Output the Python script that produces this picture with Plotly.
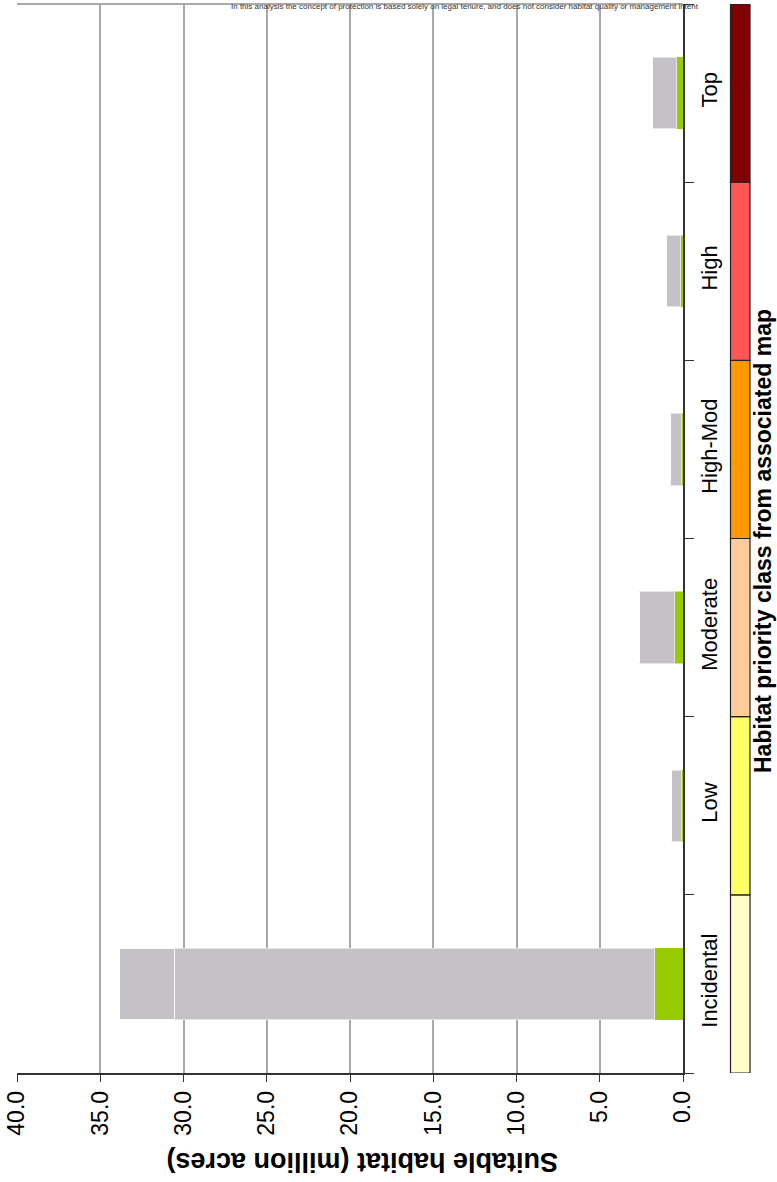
import plotly.graph_objects as go

categories = ["Incidental", "Low", "Moderate", "High-Mod", "High", "Top"]
protected = [1.74, 0.10, 0.54, 0.12, 0.18, 0.42]
unprotected = [28.83, 0.62, 2.06, 0.66, 0.84, 1.44]
unprotected_extra = [3.30, 0.0, 0.0, 0.0, 0.0, 0.0]
class_colors = ["#FFFFCC", "#FFFF66", "#FFCC99", "#FF9900", "#FF5555", "#800000"]
value_ticks = [0, 5, 10, 15, 20, 25, 30, 35, 40]

W, H = 777, 1182
L, R, T, B = 17, 94, 4, 109
pw = W - L - R
ph = H - T - B

def px_x(p):
    return (p - L) / pw

def px_y(p):
    return (H - B - p) / ph

FONT = "Liberation Sans, Arial, sans-serif"

fig = go.Figure()
fig.add_trace(go.Bar(y=categories, x=protected, orientation="h", name="Protected",
                     marker=dict(color="#99CC00", line=dict(color="#99CC00", width=0.5))))
fig.add_trace(go.Bar(y=categories, x=unprotected, orientation="h", name="Unprotected",
                     marker=dict(color="#C4C2C6", line=dict(color="#E6E6E6", width=1))))
fig.add_trace(go.Bar(y=categories, x=unprotected_extra, orientation="h", name="Other",
                     marker=dict(color="#C4C2C6", line=dict(color="#FFFFFF", width=1))))

# class colour strip
for i, c in enumerate(class_colors):
    fig.add_shape(type="rect", xref="paper", yref="y",
                  x0=px_x(730.5), x1=px_x(750), y0=i - 0.5, y1=i + 0.5,
                  fillcolor=c, line=dict(color="#222222", width=1.2), layer="above")

# top border line
fig.add_shape(type="line", xref="paper", yref="paper", x0=0, x1=1, y0=1, y1=1,
              line=dict(color="#A8A8A8", width=2))

fig.add_annotation(text="Suitable habitat (million acres)", xref="paper", yref="paper",
                   x=px_x(362), y=px_y(1162), xanchor="center", yanchor="middle",
                   textangle=180, showarrow=False,
                   font=dict(family=FONT, size=27, color="#000000", weight="bold"))
fig.add_annotation(text="Habitat priority class from associated map", xref="paper", yref="paper",
                   x=px_x(763), y=px_y(541), xanchor="center", yanchor="middle",
                   textangle=-90, showarrow=False,
                   font=dict(family=FONT, size=23, color="#000000", weight="bold"))
fig.add_annotation(text="In this analysis the concept of protection is based solely on legal tenure, and does not consider habitat quality or management intent",
                   xref="paper", yref="paper", x=px_x(465), y=px_y(0), xanchor="center", yanchor="top",
                   showarrow=False,
                   font=dict(family=FONT, size=8, color="#333333"))

fig.update_layout(
    width=W, height=H,
    margin=dict(l=L, r=R, t=T, b=B),
    barmode="stack", bargap=0.6,
    showlegend=False,
    plot_bgcolor="white", paper_bgcolor="white",
    font=dict(family=FONT, color="#000000"),
    xaxis=dict(range=[40, 0], tickvals=value_ticks, tickformat=".1f", tickangle=-90,
               ticks="outside", ticklen=7, tickcolor="#333333",
               showline=True, linecolor="#333333", linewidth=1.5,
               showgrid=True, gridcolor="#A8A8A8", gridwidth=1.5, zeroline=False,
               tickfont=dict(size=23)),
    yaxis=dict(side="right", range=[-0.5, 5.5], tickangle=-90, tickson="boundaries",
               ticks="outside", ticklen=9, tickcolor="#333333",
               showline=True, linecolor="#333333", linewidth=1.5,
               showgrid=False, tickfont=dict(size=22), ticklabelstandoff=6),
)

fig.write_html("out.html", config={"displayModeBar": False},
               post_script="document.body.style.margin='0px';document.body.style.overflow='hidden';")
